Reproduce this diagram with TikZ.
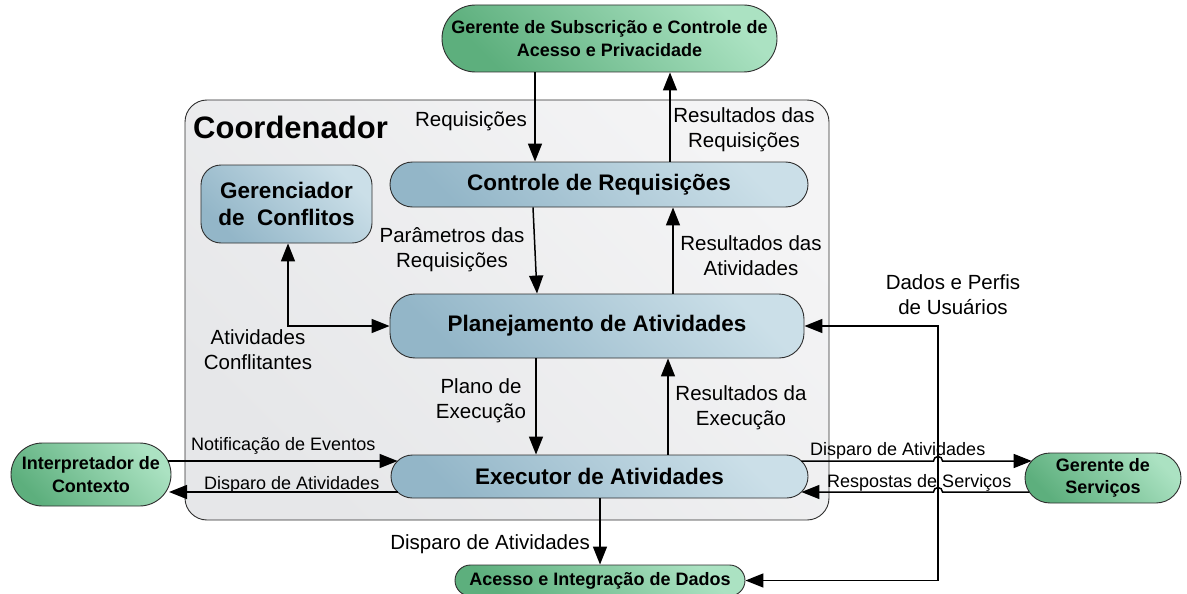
\documentclass[tikz,border=0pt]{standalone}
\usepackage{fontspec}
\setmainfont{Liberation Sans}
\usetikzlibrary{arrows.meta,calc}
\definecolor{bordc}{HTML}{2E2E2E}
\definecolor{bluedark}{HTML}{93B6C8}
\definecolor{bluelight}{HTML}{CBDFE8}
\definecolor{greendark}{HTML}{5DAF7D}
\definecolor{greenlight}{HTML}{ABE2C2}
\definecolor{contdark}{HTML}{E6E7E9}
\definecolor{contlight}{HTML}{F4F4F5}
\begin{document}
\begin{tikzpicture}[x=1pt,y=-1pt,
  container/.style={draw=bordc, line width=0.9pt, rounded corners=22pt, top color=contlight, bottom color=contdark, shading angle=-45, inner sep=0pt},
  blk/.style={draw=bordc, line width=0.9pt, top color=bluelight, bottom color=bluedark, shading angle=-45, inner sep=0pt, align=center, font=\fontsize{22.5}{27}\selectfont\bfseries},
  grn/.style={draw=bordc, line width=0.9pt, top color=greenlight, bottom color=greendark, shading angle=-45, inner sep=0pt, align=center, font=\fontsize{18}{22.5}\selectfont\bfseries},
  lbl/.style={font=\fontsize{20.5}{25}\selectfont, inner sep=0pt, align=center},
  slbl/.style={font=\fontsize{18}{22}\selectfont, inner sep=0pt},
  arr/.style={line width=1.5pt, -{Triangle[length=18pt,width=14pt]}},
  barr/.style={line width=1.5pt, {Triangle[length=18pt,width=14pt]}-{Triangle[length=18pt,width=14pt]}},
]
\useasboundingbox (0,0) rectangle (1187,594);

% container
\node[container, minimum width=644pt, minimum height=420pt] (coord) at (507,310) {};
\node[anchor=base west, inner sep=0pt, font=\fontsize{31}{31}\selectfont\bfseries] (coordlbl) at (193,138) {Coordenador};

% nodes
\node[grn, minimum width=335pt, minimum height=67pt, rounded corners=33.5pt] (top) at (609.5,38.5) {Gerente de Subscrição e Controle de\\Acesso e Privacidade};
\node[blk, minimum width=418pt, minimum height=45pt, rounded corners=22.5pt] (ctrl) at (599,184.5) {Controle de Requisições};
\node[blk, minimum width=171pt, minimum height=78pt, rounded corners=20pt] (ger) at (286.5,204) {Gerenciador\\de\ \ Conflitos};
\node[blk, minimum width=414pt, minimum height=64pt, rounded corners=25pt] (plan) at (597,326) {Planejamento de Atividades};
\node[blk, minimum width=417pt, minimum height=43pt, rounded corners=21.5pt] (exec) at (599.5,476.5) {Executor de Atividades};
\node[grn, minimum width=160pt, minimum height=63pt, rounded corners=31.5pt] (interp) at (91,474.5) {Interpretador de\\Contexto};
\node[grn, minimum width=156pt, minimum height=50pt, rounded corners=25pt] (serv) at (1103,478) {Gerente de\\Serviços};
\node[grn, minimum width=290pt, minimum height=31pt, rounded corners=15.5pt] (acesso) at (600,580.5) {Acesso e Integração de Dados};

\coordinate (dp) at (938,580.5);

% connectors
\draw[arr] ($(top.south)+(-74.5,0)$) -- ($(ctrl.north)+(-64,0)$);
\draw[arr] ($(ctrl.north)+(71,0)$) -- ($(top.south)+(60.5,0)$);
\draw[arr] ($(ctrl.south)+(-66,0)$) -- ($(plan.north)+(-60,0)$);
\draw[arr] ($(plan.north)+(76,0)$) -- ($(ctrl.south)+(74,0)$);
\draw[barr] ($(ger.south)+(1.5,0)$) |- (plan.west);
\draw[arr] ($(plan.south)+(-61,0)$) -- ($(exec.north)+(-63.5,0)$);
\draw[arr] ($(exec.north)+(68.5,0)$) -- ($(plan.south)+(71,0)$);
\draw[arr] ($(interp.center)+(77,-13.5)$) -- ($(exec.center)+(-201.9,-15.5)$);
\draw[arr] ($(exec.center)+(-201.9,15.5)$) -- ($(interp.center)+(78,17.5)$);
\draw[arr] ($(exec.center)+(201.9,-15.5)$) -- ($(exec.center -| dp)+(-4.5,-15.5)$) arc[start angle=180,end angle=0,radius=4.5pt] -- ($(serv.center)+(-71.3,-17)$);
\draw[arr] ($(serv.center)+(-73.7,14)$) -- ($(exec.center -| dp)+(4.5,15.5)$) arc[start angle=0,end angle=180,radius=4.5pt] -- ($(exec.center)+(201.9,15.5)$);
\draw[arr] ($(exec.south)+(0.5,0)$) -- (acesso.north);
\draw[barr] (plan.east) -| (dp) -- (acesso.east);

% labels
\node[lbl, anchor=base east] (l1) at (527,126) {Requisições};
\node[lbl] (l2) at (744,130) {Resultados das\\Requisições};
\node[lbl] (l3) at (452,249.6) {Parâmetros das\\Requisições};
\node[lbl] (l4) at (751,256) {Resultados das\\Atividades};
\node[lbl] (l5) at (258,350) {Atividades\\Conflitantes};
\node[lbl] (l6) at (481,401) {Plano de\\Execução};
\node[lbl] (l7) at (741,407.5) {Resultados da\\Execução};
\node[lbl] (l8) at (953,295) {Dados e Perfis\\de Usuários};
\node[slbl, anchor=base west] (l9) at (191,450) {Notificação de Eventos};
\node[slbl, anchor=base west] (l10) at (204,489) {Disparo de Atividades};
\node[slbl, anchor=base west] (l11) at (810,455) {Disparo de Atividades};
\node[slbl, anchor=base west] (l12) at (827,487) {Respostas de Serviços};
\node[lbl, anchor=base east] (l13) at (590,549) {Disparo de Atividades};
\end{tikzpicture}
\end{document}
